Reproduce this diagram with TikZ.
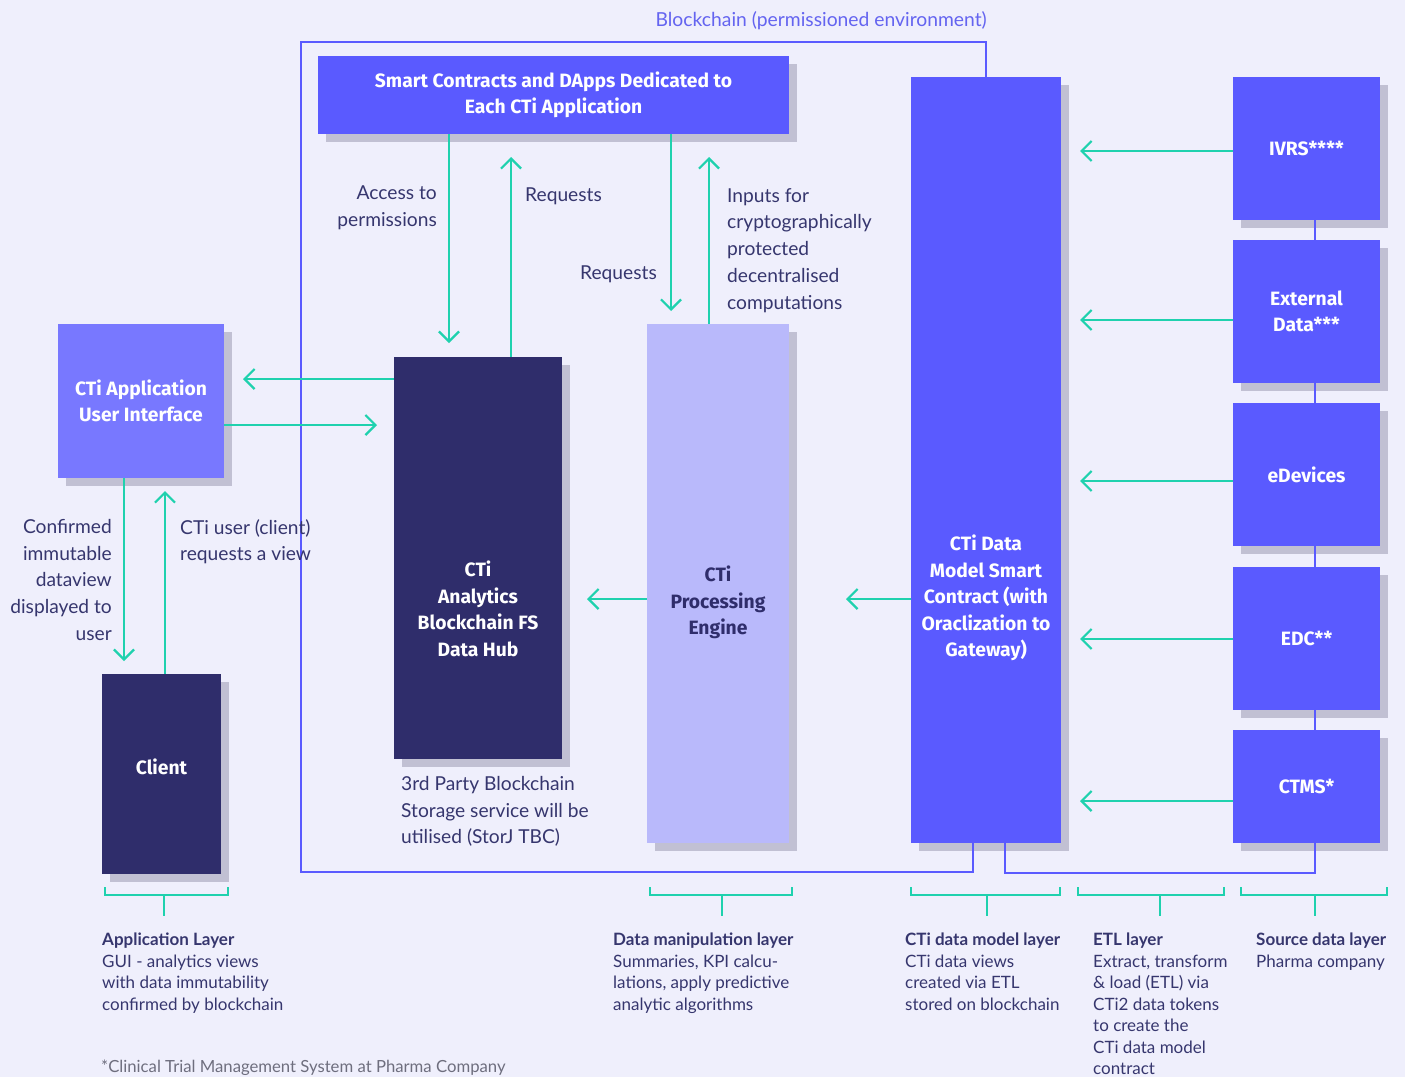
\documentclass[tikz,border=0pt]{standalone}
\usepackage{fontspec}
\setmainfont{Lato}
\newfontfamily\bfam{Fira Sans}
\usetikzlibrary{arrows.meta,shadows}
\definecolor{bg}{HTML}{EFEFFC}
\definecolor{vio}{HTML}{5A5AFF}
\definecolor{vioL}{HTML}{7878FF}
\definecolor{navy}{HTML}{2F2D6B}
\definecolor{lav}{HTML}{B9B9FB}
\definecolor{shd}{HTML}{C1C0D3}
\definecolor{teal}{HTML}{1FD1AE}
\definecolor{txt}{HTML}{36366E}
\definecolor{greyt}{HTML}{6E6E7E}
\definecolor{bclab}{HTML}{6464F0}
\tikzset{
  box/.style={draw=none, inner sep=0pt, align=center, text=white,
    font=\bfam\bfseries\fontsize{19.3}{26.5}\selectfont,
    general shadow={fill=shd, shadow xshift=8pt, shadow yshift=-8pt}},
  boxtxt/.style={inner sep=0pt, align=center, text=white,
    font=\bfam\bfseries\fontsize{19.3}{26.6}\selectfont},
  arr/.style={draw=teal, line width=2.2pt, -{Straight Barb[length=10pt,width=20pt]}},
  border/.style={draw=vio, line width=2pt},
  bk/.style={draw=teal, line width=2pt},
  ann/.style={inner sep=0pt, text=txt, font=\fontsize{19.2}{26.8}\selectfont},
  layer/.style={inner sep=0pt, text=txt, align=left, anchor=north west, font=\fontsize{17}{21.5}\selectfont}
}
\begin{document}
\begin{tikzpicture}[x=1pt,y=-1pt]
\fill[bg] (0,0) rectangle (1405,1077);
\useasboundingbox (0,0) rectangle (1405,1077);

% boxes
\node[box, fill=vio, minimum width=471pt, minimum height=78pt] (sc) at (553.5,95) {Smart Contracts and DApps Dedicated to\\Each CTi Application};
\node[box, fill=vio, minimum width=150pt, minimum height=766pt] (dm) at (986,460) {};
\node[box, fill=vioL, minimum width=166pt, minimum height=154pt] (ui) at (141,401) {CTi Application\\User Interface};
\node[box, fill=navy, minimum width=119pt, minimum height=200pt] (client) at (161.5,774) {};
\node[box, fill=navy, minimum width=168pt, minimum height=402pt] (hub) at (478,558) {};
\node[box, fill=lav, minimum width=142pt, minimum height=519pt] (proc) at (718,583.5) {};
\node[box, fill=vio, minimum width=147pt, minimum height=143pt] (ivrs) at (1306.5,148.5) {IVRS****};
\node[box, fill=vio, minimum width=147pt, minimum height=143pt] (ext) at (1306.5,311.5) {External\\Data***};
\node[box, fill=vio, minimum width=147pt, minimum height=143pt] (edev) at (1306.5,474.5) {eDevices};
\node[box, fill=vio, minimum width=147pt, minimum height=143pt] (edc) at (1306.5,638.5) {EDC**};
\node[box, fill=vio, minimum width=147pt, minimum height=113pt] (ctms) at (1306.5,786.5) {CTMS*};

\node[boxtxt] (dmt) at (986,598) {CTi Data\\Model Smart\\Contract (with\\Oraclization to\\Gateway)};
\node[boxtxt] (clientt) at (161.5,767) {Client};
\node[boxtxt] (hubt) at (478,609) {CTi\\Analytics\\Blockchain FS\\Data Hub};
\node[boxtxt, text=navy] (proct) at (718,602.5) {CTi\\Processing\\Engine};

% blockchain border
\coordinate (bl1) at (973,872);
\coordinate (bl2) at (1005,873);
\coordinate (sx) at (1315,873);
\draw[border] (dm.north) |- (301,42) -- (301,872) -- (bl1) -- (bl1 |- dm.south);
\draw[border] (bl2 |- dm.south) -- (bl2) -- (sx) -- (sx |- ctms.south);
\draw[border] (ivrs.south -| sx) -- (ext.north -| sx);
\draw[border] (ext.south -| sx) -- (edev.north -| sx);
\draw[border] (edev.south -| sx) -- (edc.north -| sx);
\draw[border] (edc.south -| sx) -- (ctms.north -| sx);
\node[anchor=base east, inner sep=0pt, text=bclab, font=\fontsize{19.3}{20}\selectfont] (bclabel) at (987,26) {Blockchain (permissioned environment)};

% arrows
\coordinate (t1) at (449,343);
\coordinate (t2) at (511,157);
\coordinate (t3) at (671,311);
\coordinate (t4) at (709,157);
\coordinate (t5) at (243,379);
\coordinate (t6) at (377,425);
\coordinate (t7) at (124,661);
\coordinate (t8) at (165,491);
\coordinate (t9) at (587,599);
\coordinate (t10) at (846,599);
\coordinate (t11) at (1080,151);
\coordinate (t12) at (1080,320);
\coordinate (t13) at (1080,481);
\coordinate (t14) at (1080,639);
\coordinate (t15) at (1080,801);
\draw[arr] (sc.south -| t1) -- (t1);
\draw[arr] (hub.north -| t2) -- (t2);
\draw[arr] (sc.south -| t3) -- (t3);
\draw[arr] (proc.north -| t4) -- (t4);
\draw[arr] (hub.west |- t5) -- (t5);
\draw[arr] (ui.east |- t6) -- (t6);
\draw[arr] (ui.south -| t7) -- (t7);
\draw[arr] (client.north -| t8) -- (t8);
\draw[arr] (proc.west |- t9) -- (t9);
\draw[arr] (dm.west |- t10) -- (t10);
\draw[arr] (ivrs.west |- t11) -- (t11);
\draw[arr] (ext.west |- t12) -- (t12);
\draw[arr] (edev.west |- t13) -- (t13);
\draw[arr] (edc.west |- t14) -- (t14);
\draw[arr] (ctms.west |- t15) -- (t15);

% annotations
\node[ann, anchor=north east, align=right] (a1) at (437,186) {Access to\\permissions};
\node[ann, anchor=north west] (a2) at (525,188) {Requests};
\node[ann, anchor=north east] (a3) at (657,266) {Requests};
\node[ann, anchor=north west, align=left] (a4) at (727,188) {Inputs for\\cryptographically\\protected\\decentralised\\computations};
\node[ann, anchor=north east, align=right] (a5) at (112,519) {Confirmed\\immutable\\dataview\\displayed to\\user};
\node[ann, anchor=north west, align=left] (a6) at (180,519) {CTi user (client)\\requests a view};
\node[ann, anchor=north west, align=left] (a7) at (401,776) {3rd Party Blockchain\\Storage service will be\\utilised (StorJ TBC)};

% layer brackets
\draw[bk] (105,887) -- (105,895) -- (228,895) -- (228,887) (164,895) -- (164,916);
\draw[bk] (650,887) -- (650,895) -- (792,895) -- (792,887) (722,895) -- (722,916);
\draw[bk] (911,887) -- (911,895) -- (1060,895) -- (1060,887) (987,895) -- (987,916);
\draw[bk] (1078,887) -- (1078,895) -- (1224,895) -- (1224,887) (1160,895) -- (1160,916);
\draw[bk] (1241,887) -- (1241,895) -- (1387,895) -- (1387,887) (1315,895) -- (1315,916);

% layer texts
\node[layer] (l1) at (102,933) {\textbf{Application Layer}\\GUI - analytics views\\with data immutability\\confirmed by blockchain};
\node[layer] (l2) at (613,933) {\textbf{Data manipulation layer}\\Summaries, KPI calcu-\\lations, apply predictive\\analytic algorithms};
\node[layer] (l3) at (905,933) {\textbf{CTi data model layer}\\CTi data views\\created via ETL\\stored on blockchain};
\node[layer] (l4) at (1093,933) {\textbf{ETL layer}\\Extract, transform\\\& load (ETL) via\\CTi2 data tokens\\to create the\\CTi data model\\contract};
\node[layer] (l5) at (1256,933) {\textbf{Source data layer}\\Pharma company};
\node[anchor=base west, inner sep=0pt, text=greyt, font=\fontsize{16.7}{18}\selectfont] (fn) at (101,1072) {*Clinical Trial Management System at Pharma Company};
\end{tikzpicture}
\end{document}
